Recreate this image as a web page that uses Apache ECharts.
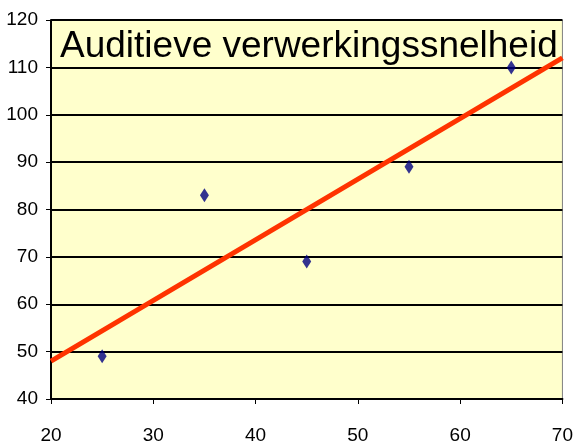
<!DOCTYPE html>
<html>
<head>
<meta charset="utf-8">
<script src="https://cdn.jsdelivr.net/npm/echarts@6/dist/echarts.min.js"></script>
<style>
  html, body { margin: 0; padding: 0; background: #fff; }
  #chart { width: 576px; height: 445px; }
</style>
</head>
<body>
<div id="chart"></div>
<script>
// points
const xValues = [25, 35, 45, 55, 65];
const yValues = [49, 83, 69, 89, 110];
// trend line ends (as drawn)
const trendX = [20, 70];
const trendY = [48, 112];
const titleText = 'Auditieve verwerkingssnelheid';

const labelFont = '"Liberation Sans", Arial, sans-serif';

const chart = echarts.init(document.getElementById('chart'));

const option = {
  animation: false,
  backgroundColor: '#ffffff',
  title: {
    text: titleText,
    left: 55,
    top: 23,
    textStyle: {
      fontFamily: '"Liberation Sans", Arial, sans-serif',
      fontSize: 37,
      fontWeight: 'normal',
      color: '#000'
    }
  },
  grid: {
    left: 51, right: 10, top: 20, bottom: 45,
    show: true,
    backgroundColor: '#ffffcc',
    borderColor: '#808080',
    borderWidth: 1
  },
  xAxis: {
    type: 'value',
    min: 20, max: 70, interval: 10,
    axisLine: { show: true, onZero: false, lineStyle: { color: '#000', width: 2 } },
    axisTick: { show: true, length: 5, lineStyle: { color: '#000', width: 1 } },
    splitLine: { show: false },
    axisLabel: { color: '#000', fontSize: 19, fontFamily: labelFont, margin: 27 }
  },
  yAxis: {
    type: 'value',
    min: 40, max: 120, interval: 10,
    axisLine: { show: true, onZero: false, lineStyle: { color: '#000', width: 2 } },
    axisTick: { show: true, length: 5, lineStyle: { color: '#000', width: 1 } },
    splitLine: { show: true, lineStyle: { color: '#000', width: 2 } },
    axisLabel: { color: '#000', fontSize: 19, fontFamily: labelFont, margin: 13 }
  },
  series: [
    {
      type: 'line',
      data: trendX.map((x, i) => [x, trendY[i]]),
      showSymbol: false,
      lineStyle: { color: '#ff3300', width: 5 },
      z: 3
    },
    {
      type: 'scatter',
      data: xValues.map((x, i) => [x, yValues[i]]),
      symbol: 'diamond',
      symbolSize: [9, 14],
      itemStyle: { color: '#000080' },
      z: 4
    }
  ]
};

chart.setOption(option);
</script>
</body>
</html>
